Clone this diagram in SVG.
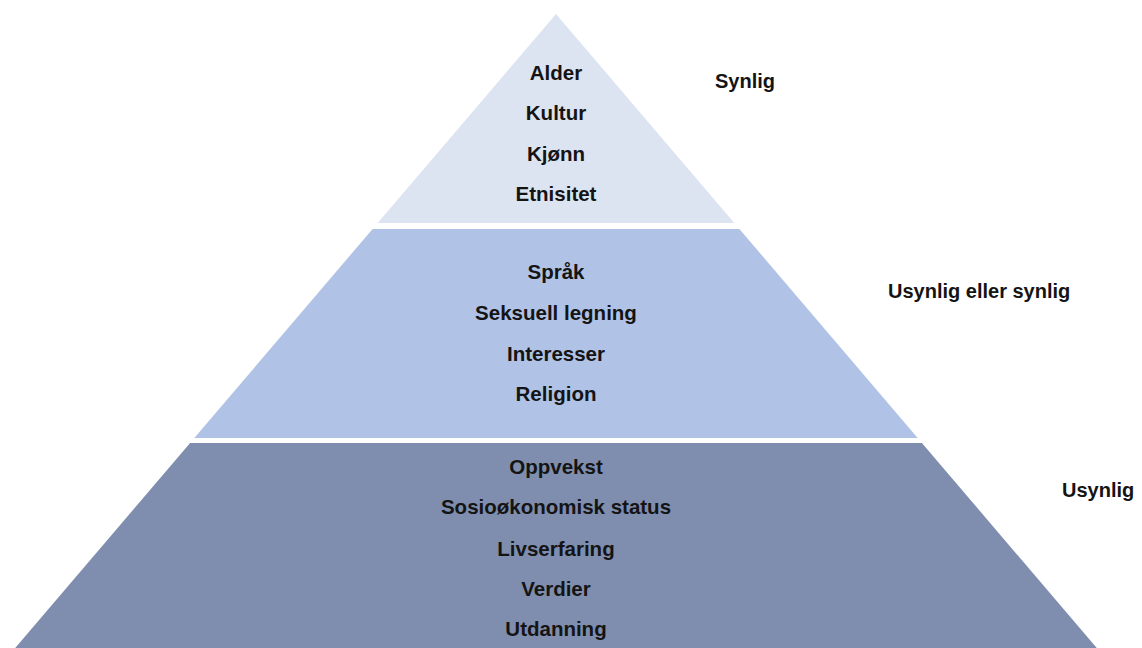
<svg xmlns="http://www.w3.org/2000/svg" width="1142" height="648" viewBox="0 0 1142 648">
<style>
.t{font-family:"Liberation Sans",Arial,sans-serif;font-weight:bold;font-size:20.5px;fill:#141414;text-anchor:middle}
.l{font-family:"Liberation Sans",Arial,sans-serif;font-weight:bold;font-size:20px;fill:#141414}
</style>
<rect width="1142" height="648" fill="#ffffff"/>
<g id="tier-top">
<polygon points="556,14 734.3,223 377.7,223" fill="#dce3f1"/>
<text class="t" x="556" y="80">Alder</text>
<text class="t" x="556" y="120">Kultur</text>
<text class="t" x="556" y="161">Kjønn</text>
<text class="t" x="556" y="201">Etnisitet</text>
</g>
<g id="tier-middle">
<polygon points="372.6,229 739.4,229 917.7,438 194.3,438" fill="#b0c2e5"/>
<text class="t" x="556" y="279">Språk</text>
<text class="t" x="556" y="320">Seksuell legning</text>
<text class="t" x="556" y="361">Interesser</text>
<text class="t" x="556" y="401">Religion</text>
</g>
<g id="tier-bottom">
<polygon points="190.1,443 921.9,443 1098.5,650 13.5,650" fill="#7f8eae"/>
<text class="t" x="556" y="474">Oppvekst</text>
<text class="t" x="556" y="514">Sosioøkonomisk status</text>
<text class="t" x="556" y="556">Livserfaring</text>
<text class="t" x="556" y="596">Verdier</text>
<text class="t" x="556" y="636">Utdanning</text>
</g>
<g id="labels">
<text class="l" x="715" y="88">Synlig</text>
<text class="l" x="888" y="298">Usynlig eller synlig</text>
<text class="l" x="1062" y="497">Usynlig</text>
</g>
</svg>
